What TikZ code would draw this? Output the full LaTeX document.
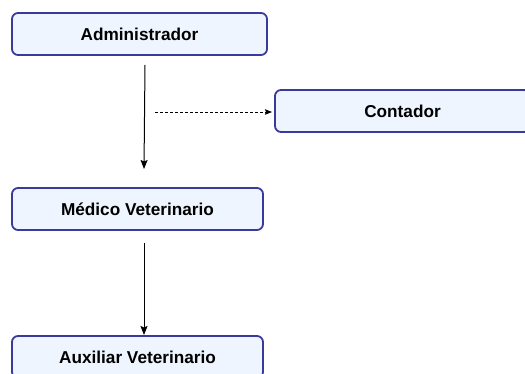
\documentclass[tikz,border=0pt]{standalone}
\usepackage{fontspec}
\setmainfont{Liberation Sans}
\usetikzlibrary{arrows.meta,positioning}
\definecolor{roleBorderColor}{HTML}{3A3A9E}
\definecolor{roleFillColor}{HTML}{EEF5FF}
\begin{document}
\begin{tikzpicture}[x=1pt,y=-1pt,%
    >={Stealth[length=9pt,width=7pt,inset=1.5pt]},align=center,every node/.style={font=\fontsize{17.2}{20}\selectfont\bfseries}]
    \tikzstyle{role}=[text centered,rectangle,rounded corners=6pt,%
      fill=roleFillColor,draw=roleBorderColor,line width=1.8pt,%
      minimum height=42pt,inner sep=0pt]
    \tikzstyle{wide}=[role,minimum width=255pt]
    \tikzstyle{narrow}=[role,minimum width=251pt]
    \useasboundingbox (0,0) rectangle (525,374);
    \clip (0,0) rectangle (525,374);
    % All states
    \node (administrador) [wide] at (139.5,34)        {Administrador};
    \node (contador) [wide] at (402.5,111)            {Contador};
    \node (medico) [narrow] at (137.5,209)            {Médico Veterinario};
    \node (auxiliar) [narrow] at (137.5,357)          {Auxiliar Veterinario};
    % Free ends
    \coordinate (adminOut) at (145,65);
    \coordinate (medicoIn) at (144,169);
    \coordinate (dashStart) at (155,112);
    \coordinate (dashEnd) at (272,112);
    \coordinate (medicoOut) at (144,243);
    \coordinate (auxiliarIn) at (144,335);
    % Edges
    \draw [->,line width=1pt] (adminOut) -- (medicoIn);
    \draw [->,dash pattern=on 3pt off 2pt,line width=0.8pt,%
      >={Stealth[length=7pt,width=5.5pt,inset=1pt]}] (dashStart) -- (dashEnd);
    \draw [->,line width=1pt] (medicoOut) -- (auxiliarIn);
  \end{tikzpicture}
\end{document}
